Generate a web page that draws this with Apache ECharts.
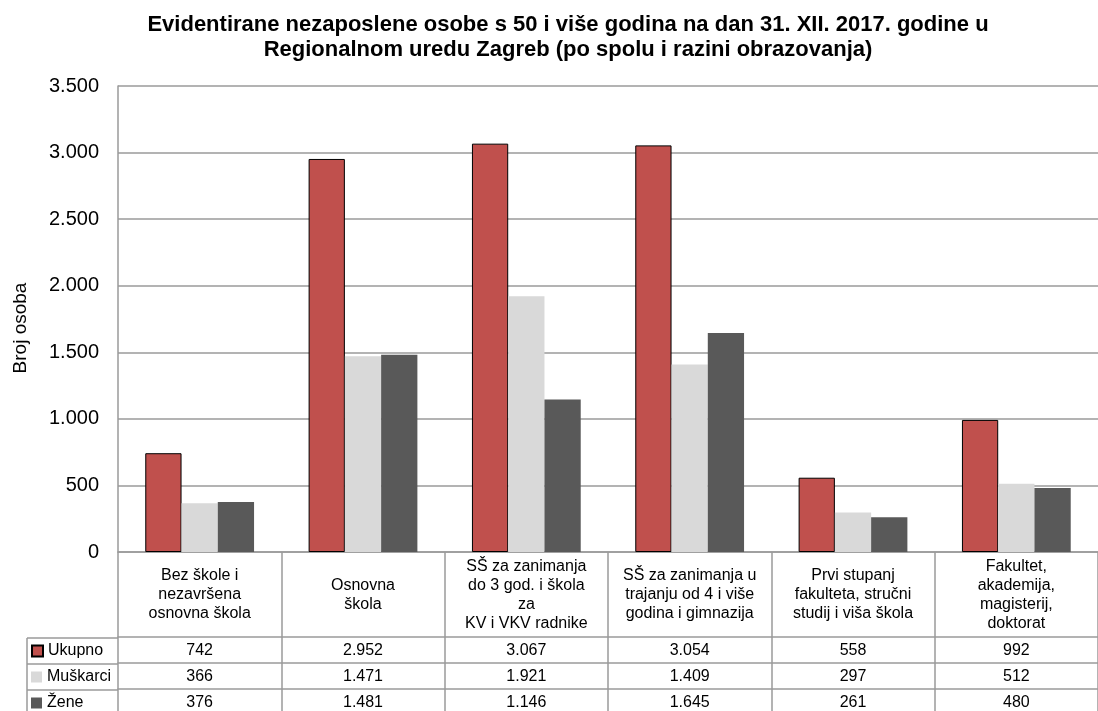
<!DOCTYPE html>
<html>
<head>
<meta charset="utf-8">
<script src="https://cdn.jsdelivr.net/npm/echarts@6/dist/echarts.min.js"></script>
<style>
  html, body { margin: 0; padding: 0; background: #fff; }
  #chart { width: 1098px; height: 711px; }
</style>
</head>
<body>
<div id="chart"></div>
<script>
// podaci
const categories = [
  'Bez škole i\nnezavršena\nosnovna škola',
  'Osnovna\nškola',
  'SŠ za zanimanja\ndo 3 god. i škola\nza\nKV i VKV radnike',
  'SŠ za zanimanja u\ntrajanju od 4 i više\ngodina i gimnazija',
  'Prvi stupanj\nfakulteta, stručni\nstudij i viša škola',
  'Fakultet,\nakademija,\nmagisterij,\ndoktorat'
]
const seriesNames = ['Ukupno', 'Muškarci', 'Žene']
const ukupno = [742, 2952, 3067, 3054, 558, 992]
const muskarci = [366, 1471, 1921, 1409, 297, 512]
const zene = [376, 1481, 1146, 1645, 261, 480]
const yTicks = [0, 500, 1000, 1500, 2000, 2500, 3000, 3500]

// raspored
const FONT = '"Liberation Sans", Arial, sans-serif'
const GRID_LEFT = 118
const GRID_TOP = 86
const GRID_H = 467
const CAT_W = 165.6
const CAT_H = 85
const ROW_H = 26
const LEG_LEFT = 27
const LINE = '#9a9a9a'
const AXIS_Y = GRID_TOP + GRID_H

const fmt = v => String(v).replace(/\B(?=(\d{3})+(?!\d))/g, '.')
const rows = [ukupno, muskarci, zene]
const colors = ['#C0504D', '#D9D9D9', '#595959']

// x osi - prva za kategorije, ostale za retke tablice
const xAxes = [{
  type: 'category',
  data: categories,
  position: 'bottom',
  axisLine: { show: true, onZero: false, lineStyle: { color: LINE, width: 1.5 } },
  axisTick: { show: true, interval: 0, length: CAT_H, lineStyle: { color: LINE, width: 1.5 } },
  axisLabel: {
    interval: 0, margin: 43, verticalAlign: 'middle',
    fontFamily: FONT, fontSize: 16, lineHeight: 19, color: '#000'
  }
}]
rows.forEach((row, i) => {
  xAxes.push({
    type: 'category',
    data: categories,
    position: 'bottom',
    offset: CAT_H + ROW_H * i,
    axisLine: { show: true, onZero: false, lineStyle: { color: LINE, width: 1.5 } },
    axisTick: { show: true, interval: 0, length: ROW_H, lineStyle: { color: LINE, width: 1.5 } },
    axisLabel: {
      interval: 0, margin: 14, verticalAlign: 'middle',
      fontFamily: FONT, fontSize: 16, color: '#000',
      formatter: (v, idx) => fmt(row[idx])
    }
  })
})

// legenda - jedna po retku tablice
const legends = seriesNames.map((name, i) => ({
  orient: 'vertical',
  left: LEG_LEFT + 4,
  top: AXIS_Y + CAT_H + ROW_H * i + 5,
  padding: 0,
  itemWidth: 11,
  itemHeight: 11,
  icon: 'rect',
  data: [name],
  textStyle: { fontFamily: FONT, fontSize: 16, lineHeight: 16, color: '#000' }
}))

// linije stupca legende
const legendLines = []
for (let i = 0; i < 3; i++) {
  const y = AXIS_Y + CAT_H + ROW_H * i
  legendLines.push({
    type: 'line',
    shape: { x1: LEG_LEFT, y1: y, x2: GRID_LEFT, y2: y },
    style: { stroke: LINE, lineWidth: 1.5 }
  })
}
legendLines.push({
  type: 'line',
  shape: { x1: LEG_LEFT, y1: AXIS_Y + CAT_H, x2: LEG_LEFT, y2: AXIS_Y + CAT_H + ROW_H * 3 },
  style: { stroke: LINE, lineWidth: 1.5 }
})

const myChart = echarts.init(document.getElementById('chart'))
myChart.setOption({
  animation: false,
  backgroundColor: '#fff',
  title: {
    text: 'Evidentirane nezaposlene osobe s 50 i više godina na dan 31. XII. 2017. godine u\nRegionalnom uredu Zagreb (po spolu i razini obrazovanja)',
    left: 563,
    top: 7,
    textAlign: 'center',
    textStyle: { fontFamily: FONT, fontSize: 22, fontWeight: 'bold', lineHeight: 25, color: '#000' }
  },
  legend: legends,
  grid: { left: GRID_LEFT, top: GRID_TOP, height: GRID_H, width: CAT_W * 6 },
  xAxis: xAxes,
  yAxis: {
    type: 'value',
    min: yTicks[0],
    max: yTicks[yTicks.length - 1],
    interval: 500,
    name: 'Broj osoba',
    nameLocation: 'middle',
    nameGap: 88,
    nameTextStyle: { fontFamily: FONT, fontSize: 19, color: '#000', padding: [0, 18, 0, 0] },
    axisLine: { show: true, lineStyle: { color: LINE, width: 1.5 } },
    axisTick: { show: false },
    axisLabel: { margin: 19, fontFamily: FONT, fontSize: 20, color: '#000', formatter: v => fmt(v) },
    splitLine: { show: true, lineStyle: { color: LINE, width: 1.5 } }
  },
  graphic: legendLines,
  series: rows.map((row, i) => ({
    name: seriesNames[i],
    type: 'bar',
    xAxisIndex: 0,
    data: row,
    barGap: '0%',
    barCategoryGap: '33.4%',
    itemStyle: i === 0
      ? { color: colors[i], borderColor: '#000', borderWidth: 1 }
      : { color: colors[i] }
  }))
})
</script>
</body>
</html>
